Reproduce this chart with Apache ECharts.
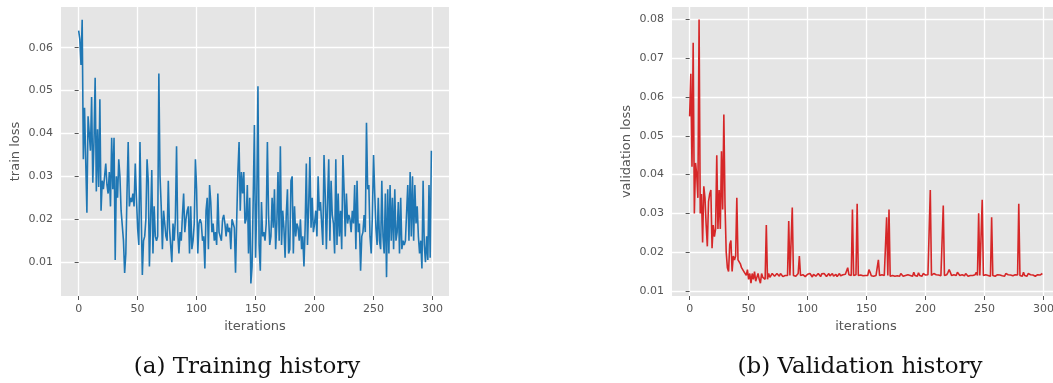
<!DOCTYPE html>
<html>
<head>
<meta charset="utf-8">
<script src="https://cdn.jsdelivr.net/npm/echarts@6/dist/echarts.min.js"></script>
<style>
  html, body { margin: 0; padding: 0; background: #ffffff; }
  #chart { width: 1053px; height: 383px; }
</style>
</head>
<body>
<div id="chart"></div>
<script>
// Loss per training iteration (index = iteration number)
const trainLoss = [
  0.064, 0.062, 0.056, 0.0665, 0.034, 0.046, 0.046, 0.0215, 0.044, 0.040,
  0.036, 0.0485, 0.0285, 0.038, 0.053, 0.0265, 0.041, 0.0275, 0.048, 0.022,
  0.029, 0.027, 0.030, 0.033, 0.028, 0.026, 0.031, 0.023, 0.039, 0.027,
  0.039, 0.0105, 0.030, 0.025, 0.034, 0.030, 0.022, 0.022, 0.015, 0.0075,
  0.012, 0.026, 0.038, 0.023, 0.025, 0.024, 0.026, 0.023, 0.033, 0.025,
  0.018, 0.014, 0.038, 0.022, 0.007, 0.015, 0.016, 0.020, 0.034, 0.029,
  0.009, 0.020, 0.0315, 0.012, 0.023, 0.016, 0.015, 0.016, 0.054, 0.030,
  0.023, 0.013, 0.022, 0.019, 0.016, 0.015, 0.029, 0.018, 0.014, 0.010,
  0.019, 0.015, 0.020, 0.037, 0.017, 0.012, 0.017, 0.015, 0.021, 0.026,
  0.017, 0.020, 0.022, 0.023, 0.012, 0.023, 0.013, 0.015, 0.019, 0.034,
  0.027, 0.012, 0.019, 0.020, 0.019, 0.015, 0.016, 0.0085, 0.022, 0.025,
  0.013, 0.028, 0.024, 0.017, 0.019, 0.015, 0.017, 0.014, 0.026, 0.017,
  0.016, 0.015, 0.020, 0.021, 0.019, 0.016, 0.019, 0.017, 0.018, 0.013,
  0.020, 0.019, 0.018, 0.0075, 0.020, 0.031, 0.038, 0.022, 0.031, 0.026,
  0.031, 0.019, 0.020, 0.028, 0.012, 0.025, 0.005, 0.009, 0.025, 0.042,
  0.011, 0.024, 0.051, 0.014, 0.008, 0.024, 0.016, 0.017, 0.015, 0.019,
  0.038, 0.021, 0.014, 0.016, 0.025, 0.018, 0.027, 0.013, 0.019, 0.031,
  0.015, 0.037, 0.014, 0.022, 0.018, 0.011, 0.021, 0.027, 0.012, 0.013,
  0.029, 0.030, 0.012, 0.023, 0.016, 0.019, 0.018, 0.015, 0.020, 0.013,
  0.016, 0.009, 0.018, 0.033, 0.014, 0.023, 0.0345, 0.018, 0.025, 0.017,
  0.019, 0.022, 0.016, 0.030, 0.022, 0.024, 0.019, 0.014, 0.035, 0.026,
  0.013, 0.024, 0.034, 0.015, 0.029, 0.021, 0.019, 0.012, 0.034, 0.014,
  0.026, 0.016, 0.022, 0.013, 0.035, 0.027, 0.016, 0.026, 0.019, 0.021,
  0.020, 0.017, 0.022, 0.019, 0.028, 0.013, 0.029, 0.017, 0.019, 0.008,
  0.016, 0.017, 0.021, 0.017, 0.0425, 0.027, 0.028, 0.016, 0.012, 0.021,
  0.035, 0.026, 0.018, 0.014, 0.025, 0.015, 0.013, 0.029, 0.016, 0.012,
  0.026, 0.0065, 0.027, 0.012, 0.028, 0.015, 0.025, 0.013, 0.027, 0.015,
  0.017, 0.024, 0.012, 0.025, 0.013, 0.015, 0.014, 0.015, 0.015, 0.028,
  0.015, 0.031, 0.016, 0.030, 0.015, 0.028, 0.019, 0.023, 0.016, 0.012,
  0.015, 0.0085, 0.029, 0.014, 0.010, 0.016, 0.0105, 0.028, 0.011, 0.036
];

const validationLoss = [
  0.055, 0.066, 0.042, 0.074, 0.030, 0.043, 0.040, 0.034, 0.080, 0.030,
  0.035, 0.0225, 0.037, 0.034, 0.027, 0.0215, 0.033, 0.035, 0.036, 0.021,
  0.027, 0.024, 0.026, 0.045, 0.026, 0.036, 0.026, 0.046, 0.031, 0.0555,
  0.032, 0.020, 0.016, 0.015, 0.022, 0.023, 0.015, 0.019, 0.018, 0.019,
  0.034, 0.018, 0.018, 0.017, 0.016, 0.0155, 0.015, 0.0145, 0.014, 0.0155,
  0.013, 0.0145, 0.012, 0.0145, 0.013, 0.015, 0.0125, 0.0135, 0.0145, 0.013,
  0.012, 0.0145, 0.0135, 0.014, 0.013, 0.027, 0.013, 0.0145, 0.0135, 0.014,
  0.0145, 0.014, 0.0138, 0.0142, 0.0145, 0.014, 0.0138, 0.0145, 0.014, 0.0137,
  0.0142, 0.014, 0.0145, 0.014, 0.028, 0.014, 0.0138, 0.0315, 0.014, 0.0142,
  0.0138, 0.014, 0.0145, 0.019, 0.014, 0.0138, 0.0142, 0.0145, 0.0137, 0.014,
  0.0143, 0.0138, 0.0145, 0.014, 0.0136, 0.0143, 0.0145, 0.0138, 0.014, 0.0145,
  0.014, 0.0137, 0.0144, 0.0139, 0.0145, 0.014, 0.0137, 0.0142, 0.0145, 0.0139,
  0.0141, 0.0145, 0.0138, 0.014, 0.0143, 0.0137, 0.0141, 0.0145, 0.0139, 0.014,
  0.0142, 0.0138, 0.0143, 0.014, 0.016, 0.0142, 0.0138, 0.014, 0.031, 0.014,
  0.0138, 0.0142, 0.0325, 0.014, 0.0137, 0.0141, 0.014, 0.0139, 0.0142, 0.014,
  0.0145, 0.014, 0.0155, 0.0148, 0.0139, 0.014, 0.0138, 0.0142, 0.014, 0.0137,
  0.018, 0.014, 0.0138, 0.0142, 0.0139, 0.014, 0.0138, 0.029, 0.014, 0.031,
  0.0138, 0.0142, 0.014, 0.0145, 0.0138, 0.0141, 0.0139, 0.0142, 0.0138, 0.0145,
  0.015, 0.0138, 0.0141, 0.014, 0.0137, 0.0142, 0.0139, 0.014, 0.0143, 0.0138,
  0.0148, 0.014, 0.0145, 0.0138, 0.0147, 0.014, 0.0142, 0.0138, 0.0145, 0.014,
  0.0141, 0.0138, 0.0142, 0.014, 0.036, 0.014, 0.0138, 0.0145, 0.014, 0.0142,
  0.0138, 0.0141, 0.014, 0.0139, 0.0142, 0.032, 0.014, 0.0138, 0.0142, 0.0148,
  0.0155, 0.0148, 0.014, 0.0138, 0.0142, 0.0139, 0.014, 0.0148, 0.0152, 0.014,
  0.0138, 0.0142, 0.014, 0.0139, 0.0145, 0.0141, 0.0138, 0.0142, 0.014, 0.0145,
  0.014, 0.0138, 0.0142, 0.0148, 0.014, 0.030, 0.014, 0.0138, 0.0335, 0.014,
  0.0138, 0.0142, 0.0139, 0.014, 0.0142, 0.0138, 0.029, 0.014, 0.0142, 0.0138,
  0.014, 0.0142, 0.0138, 0.0141, 0.014, 0.0139, 0.0142, 0.0138, 0.0145, 0.014,
  0.0142, 0.0138, 0.0141, 0.0145, 0.0139, 0.014, 0.0142, 0.0138, 0.0141, 0.0325,
  0.014, 0.0145, 0.0138, 0.0148, 0.014, 0.0142, 0.0138, 0.0145, 0.014, 0.0142,
  0.0138, 0.0141, 0.0145, 0.0138, 0.014, 0.0142, 0.0138, 0.0141, 0.0145, 0.0145
];

// Tick positions
const iterationTicks = [0, 50, 100, 150, 200, 250, 300];
const trainTicks = [0.01, 0.02, 0.03, 0.04, 0.05, 0.06];
const validationTicks = [0.01, 0.02, 0.03, 0.04, 0.05, 0.06, 0.07, 0.08];

// Captions and axis titles
const captions = ['(a) Training history', '(b) Validation history'];
const xTitle = 'iterations';
const yTitles = ['train loss', 'validation loss'];

const TICK_COLOR = '#555555';
const FONT = 'DejaVu Sans';

function toPairs(values) {
  return values.map((v, i) => [i, v]);
}

function xAxisFor(gridIndex) {
  return {
    type: 'value',
    gridIndex,
    min: -14.95,
    max: 313.95,
    name: xTitle,
    nameLocation: 'middle',
    nameGap: 22,
    nameTextStyle: { color: TICK_COLOR, fontFamily: FONT, fontSize: 13 },
    axisLine: { show: false },
    axisTick: { show: true, length: 4, lineStyle: { color: TICK_COLOR, width: 1 }, customValues: iterationTicks },
    axisLabel: { color: TICK_COLOR, fontFamily: FONT, fontSize: 11, margin: 8, customValues: iterationTicks },
    splitLine: { show: true, lineStyle: { color: '#ffffff', width: 1.3 } }
  };
}

function yAxisFor(gridIndex, min, max, ticks, title) {
  return {
    type: 'value',
    gridIndex,
    min,
    max,
    name: title,
    nameLocation: 'middle',
    nameGap: 39,
    nameTextStyle: { color: TICK_COLOR, fontFamily: FONT, fontSize: 13 },
    axisLine: { show: false },
    axisTick: { show: true, length: 4, lineStyle: { color: TICK_COLOR, width: 1 }, customValues: ticks },
    axisLabel: {
      color: TICK_COLOR, fontFamily: FONT, fontSize: 11, margin: 8,
      customValues: ticks,
      formatter: v => v.toFixed(2)
    },
    splitLine: { show: true, lineStyle: { color: '#ffffff', width: 1.3 } }
  };
}

const chart = echarts.init(document.getElementById('chart'), null, { renderer: 'canvas' });

const captionStyle = { fontFamily: 'DejaVu Serif', fontWeight: 'normal', fontSize: 23, color: '#111111' };

chart.setOption({
  animation: false,
  backgroundColor: '#ffffff',
  title: [
    { text: captions[0], left: 242, top: 351, textAlign: 'center', textStyle: captionStyle },
    { text: captions[1], left: 855, top: 351, textAlign: 'center', textStyle: captionStyle }
  ],
  grid: [
    { left: 61, top: 7, width: 388, height: 289, show: true, backgroundColor: '#e5e5e5', borderWidth: 0, outerBoundsMode: 'none' },
    { left: 672, top: 7, width: 388, height: 289, show: true, backgroundColor: '#e5e5e5', borderWidth: 0, outerBoundsMode: 'none' }
  ],
  xAxis: [xAxisFor(0), xAxisFor(1)],
  yAxis: [
    yAxisFor(0, 0.0021, 0.0695, trainTicks, yTitles[0]),
    yAxisFor(1, 0.0087, 0.0832, validationTicks, yTitles[1])
  ],
  series: [
    {
      type: 'line', xAxisIndex: 0, yAxisIndex: 0,
      data: toPairs(trainLoss),
      showSymbol: false, symbol: 'none',
      lineStyle: { color: '#1f77b4', width: 1.6 }
    },
    {
      type: 'line', xAxisIndex: 1, yAxisIndex: 1,
      data: toPairs(validationLoss),
      showSymbol: false, symbol: 'none',
      lineStyle: { color: '#d62728', width: 1.6 }
    }
  ]
});
</script>
</body>
</html>
